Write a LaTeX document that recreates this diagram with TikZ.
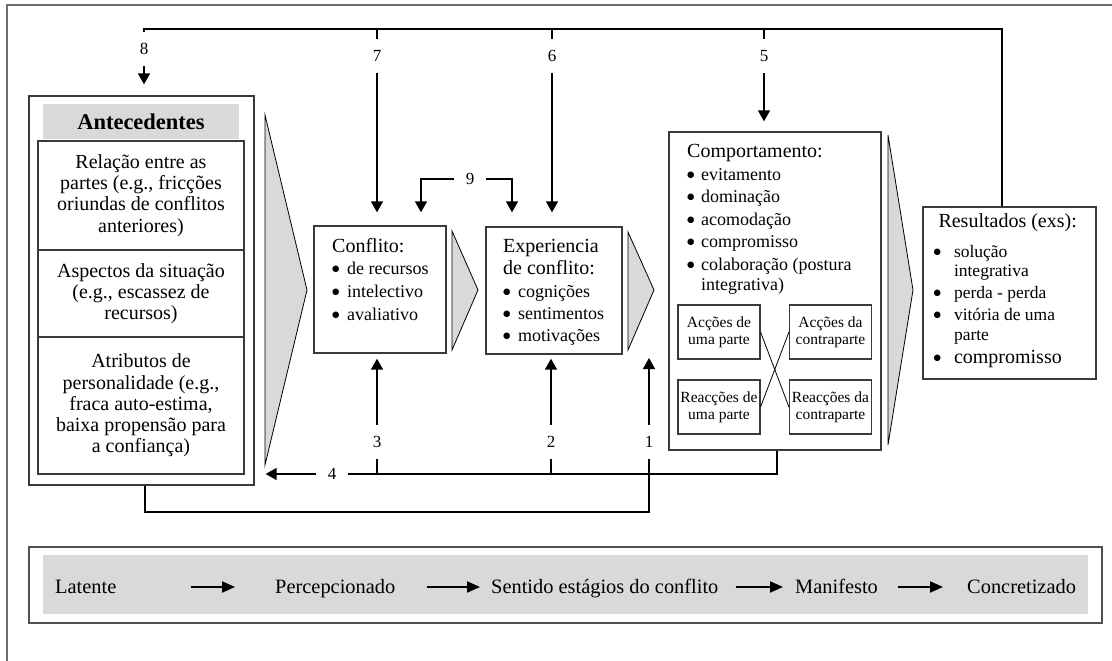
\documentclass[tikz,border=0pt]{standalone}
\usepackage{fontspec}
\setmainfont{Liberation Serif}
\newfontfamily\dotfont{DejaVu Sans}
\usetikzlibrary{arrows.meta}
\definecolor{shade}{HTML}{D9D9D9}
\definecolor{framegray}{HTML}{6E6E6E}
\definecolor{boxline}{HTML}{3A3A3A}
\definecolor{legendline}{HTML}{505050}
% solid round bullet, a bullet entry with a fixed-width bullet column, and its continuation line
\newcommand{\bdot}{\raisebox{3pt}{\dotfont\fontsize{8.5}{8.5}\selectfont ●}}
\newcommand{\bitem}[2][15pt]{\makebox[#1][l]{\bdot}#2}
\newcommand{\bcont}[2][15pt]{\hspace*{#1}#2}

\begin{document}
\begin{tikzpicture}[x=1pt,y=-1pt,
  framestyle/.style={draw=framegray, line width=2pt},
  boxstyle/.style={draw=boxline, line width=1.3pt, fill=white, inner sep=0pt},
  chevstyle/.style={fill=shade, draw=black, line width=0.8pt, line join=miter},
  linkstyle/.style={draw=black, line width=1.4pt},
  arrowstyle/.style={linkstyle, -{Triangle[length=11pt,width=12pt]}},
  numlabel/.style={font=\fontsize{17}{17}\selectfont, inner xsep=12pt, inner ysep=11pt},
  bodytext/.style={font=\fontsize{20}{21.3}\selectfont, align=center},
  listtext/.style={font=\fontsize{18}{20}\selectfont, inner sep=0pt, anchor=north west},
  minibox/.style={boxstyle, line width=1.1pt, font=\fontsize{15.5}{17}\selectfont,
    align=center, minimum width=82pt, minimum height=54pt},
  legendtext/.style={font=\fontsize{20.4}{22}\selectfont, inner sep=0pt, anchor=base west},
  legendarrow/.style={draw=black, line width=2pt, -{Triangle[length=13pt,width=11pt]}}
]
\useasboundingbox (0,0) rectangle (1112,661);
\fill[white] (0,0) rectangle (1112,661);

% open outer frame
\draw[framestyle] (7,661) -- (7,5) -- (1112,5);

% Antecedentes column
\node[boxstyle, minimum width=225pt, minimum height=389pt] (ante) at (141.5,290.5) {};
\node[fill=shade, minimum width=196pt, minimum height=35pt, inner sep=0pt,
      font=\bfseries\fontsize{22.5}{24}\selectfont] (antehead) at (141,121.5) {Antecedentes};
\node[boxstyle, bodytext, minimum width=206pt, minimum height=109pt] (rel) at (141,195.5)
  {Relação entre as\\partes (e.g., fricções\\oriundas de conflitos\\anteriores)};
\node[boxstyle, bodytext, minimum width=206pt, minimum height=87pt] (asp) at (141,293.5)
  {Aspectos da situação\\(e.g., escassez de\\recursos)};
\node[boxstyle, bodytext, minimum width=206pt, minimum height=137pt] (atr) at (141,405.5)
  {Atributos de\\personalidade (e.g.,\\fraca auto-estima,\\baixa propensão para\\a confiança)};

% stage chevrons
\filldraw[chevstyle] (265,115) -- (307,290) -- (265,465) -- cycle;
\filldraw[chevstyle] (452,231) -- (478,290) -- (452,350) -- cycle;
\filldraw[chevstyle] (628,232) -- (654,290) -- (628,350) -- cycle;
\filldraw[chevstyle] (888,135) -- (913,290) -- (888,445) -- cycle;

% Conflito
\node[boxstyle, minimum width=132pt, minimum height=127pt] (conf) at (380,289.5) {};
\node[listtext] (conftxt) at (332,238) {\begin{tabular}{@{}l@{}}
  {\fontsize{20}{20}\selectfont Conflito:}\\[2.5pt]
  \bitem{de recursos}\\[2.5pt]
  \bitem{intelectivo}\\[3pt]
  \bitem{avaliativo}
\end{tabular}};

% Experiencia de conflito
\node[boxstyle, minimum width=136pt, minimum height=127pt] (exp) at (554,290.5) {};
\node[listtext] (exptxt) at (503,238) {\begin{tabular}{@{}l@{}}
  {\fontsize{20}{20}\selectfont Experiencia}\\[2pt]
  {\fontsize{20}{20}\selectfont de conflito:}\\[3pt]
  \bitem{cognições}\\[2pt]
  \bitem{sentimentos}\\[2.5pt]
  \bitem{motivações}
\end{tabular}};

% Comportamento
\node[boxstyle, minimum width=212pt, minimum height=318pt] (comp) at (775,291) {};
\node[listtext, font=\fontsize{18}{19}\selectfont] (comptxt) at (687,144) {\begin{tabular}{@{}l@{}}
  {\fontsize{20}{19}\selectfont Comportamento:}\\[3.7pt]
  \bitem[14pt]{evitamento}\\[3.7pt]
  \bitem[14pt]{dominação}\\[3.3pt]
  \bitem[14pt]{acomodação}\\[3.7pt]
  \bitem[14pt]{compromisso}\\[3.8pt]
  \bitem[14pt]{colaboração (postura}\\[0.5pt]
  \bcont[14pt]{integrativa)}
\end{tabular}};
\node[minibox] (acA) at (719,332) {Acções de\\uma parte};
\node[minibox] (acB) at (830.5,332) {Acções da\\contraparte};
\node[minibox] (reA) at (719,407) {Reacções de\\uma parte};
\node[minibox] (reB) at (830.5,407) {Reacções da\\contraparte};
\draw[line width=0.8pt] (acA.east) -- (reB.west);
\draw[line width=0.8pt] (reA.east) -- (acB.west);

% Resultados
\node[boxstyle, minimum width=173pt, minimum height=172pt] (res) at (1009.5,293) {};
\node[listtext, font=\fontsize{17.5}{19}\selectfont] (restxt) at (933.3,213.4) {\begin{tabular}{@{}l@{}}
  {\fontsize{20}{19}\selectfont\hspace*{5pt}Resultados (exs):}\\[11.3pt]
  \bitem[20.5pt]{solução}\\
  \bcont[20.5pt]{integrativa}\\[3pt]
  \bitem[20.5pt]{perda - perda}\\[3pt]
  \bitem[20.5pt]{vitória de uma}\\[1pt]
  \bcont[20.5pt]{parte}\\[4pt]
  \bitem[20.5pt]{\fontsize{20}{19}\selectfont compromisso}
\end{tabular}};

% feedback loops from above
\coordinate (topR) at (1002,29);
\coordinate (topL) at (144,29);
\node[numlabel] (n8) at (144,49) {8};
\node[numlabel] (n7) at (377,56) {7};
\node[numlabel] (n6) at (552,56) {6};
\node[numlabel] (n5) at (764,56) {5};
\draw[linkstyle] (res.north -| topR) -- (topR) -- (topL) -- (n8);
\draw[arrowstyle, shorten >=11pt] (n8) -- (ante.north -| n8);
\draw[linkstyle] (n7 |- topL) -- (n7);
\draw[arrowstyle, shorten >=13pt] (n7) -- (conf.north -| n7);
\draw[linkstyle] (n6 |- topL) -- (n6);
\draw[arrowstyle, shorten >=14pt] (n6) -- (exp.north -| n6);
\draw[linkstyle] (n5 |- topL) -- (n5);
\draw[arrowstyle, shorten >=10pt] (n5) -- (comp.north -| n5);

% loop 9 between the two middle boxes
\node[numlabel] (n9) at (470,179) {9};
\coordinate (k9l) at (421,179);
\coordinate (k9r) at (512,179);
\draw[arrowstyle, shorten >=13pt] (n9) -- (k9l) -- (k9l |- conf.north);
\draw[arrowstyle, shorten >=14pt] (n9) -- (k9r) -- (k9r |- exp.north);

% feedback loops from below
\coordinate (k4) at (777,474);
\node[numlabel] (n4) at (332,474) {4};
\node[numlabel] (n3) at (377,441.7) {3};
\node[numlabel] (n2) at (551,441.7) {2};
\node[numlabel] (n1) at (649,441.7) {1};
\draw[linkstyle] (comp.south -| k4) -- (k4) -- (n4);
\draw[arrowstyle, shorten >=11pt] (n4) -- (n4 -| ante.east);
\draw[linkstyle] (n3 |- k4) -- (n3);
\draw[arrowstyle, shorten >=5pt] (n3) -- (n3 |- conf.south);
\draw[linkstyle] (n2 |- k4) -- (n2);
\draw[arrowstyle, shorten >=4pt] (n2) -- (n2 |- exp.south);
\coordinate (k1a) at (145,512);
\coordinate (k1b) at (649,512);
\coordinate (tip1) at (649,358);
\draw[linkstyle] (ante.south -| k1a) -- (k1a) -- (k1b) -- (n1);
\draw[arrowstyle] (n1) -- (tip1);

% stages of conflict
\node[draw=legendline, line width=2pt, minimum width=1073pt, minimum height=76pt, inner sep=0pt] (legbox) at (565.5,585) {};
\node[fill=shade, minimum width=1045pt, minimum height=59pt, inner sep=0pt] (legband) at (565.5,584.5) {};
\node[legendtext] (lat) at (55,593.3) {Latente};
\node[legendtext] (per) at (275,593.3) {Percepcionado};
\node[legendtext] (sen) at (491,593.3) {Sentido estágios do conflito};
\node[legendtext] (man) at (795,593.3) {Manifesto};
\node[legendtext] (con) at (967,593.3) {Concretizado};
\coordinate (ly) at (0,587);
\draw[legendarrow, shorten <=74pt, shorten >=40pt] (lat.east |- ly) -- (per.west |- ly);
\draw[legendarrow, shorten <=32pt, shorten >=11pt] (per.east |- ly) -- (sen.west |- ly);
\draw[legendarrow, shorten <=17pt, shorten >=12pt] (sen.east |- ly) -- (man.west |- ly);
\draw[legendarrow, shorten <=20pt, shorten >=24pt] (man.east |- ly) -- (con.west |- ly);
\end{tikzpicture}
\end{document}
